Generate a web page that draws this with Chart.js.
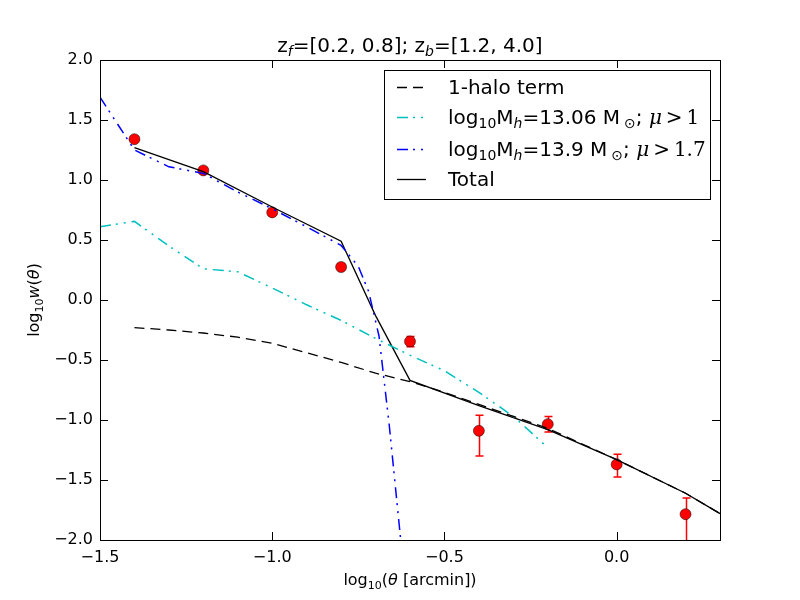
<!DOCTYPE html>
<html>
<head>
<meta charset="utf-8">
<script src="https://cdn.jsdelivr.net/npm/chart.js@4"></script>
<style>
html,body{margin:0;padding:0;background:#fff;}
canvas{display:block;}
</style>
</head>
<body>
<canvas id="chart" width="800" height="600"></canvas>
<script>
// measured points with (asymmetric) errors
const obsX=[-1.4,-1.2,-1.0,-0.8,-0.6,-0.4,-0.2,0.0,0.2];
const obsY=[1.34,1.08,0.73,0.275,-0.345,-1.09,-1.035,-1.37,-1.785];
const obsErrUp=[0.02,0.02,0.02,0.02,0.04,0.13,0.065,0.085,0.135];
const obsErrDown=[0.02,0.02,0.02,0.02,0.045,0.21,0.065,0.105,0.25];

// 1-halo term
const oneHaloX=[-1.4,-1.3,-1.2,-1.1,-1.0,-0.9,-0.8,-0.7,-0.6,-0.5,-0.4,-0.3,-0.2,-0.1,0.0,0.1,0.2,0.3];
const oneHaloY=[-0.23,-0.25,-0.275,-0.31,-0.36,-0.44,-0.52,-0.61,-0.68,-0.77,-0.87,-0.97,-1.07,-1.2,-1.33,-1.47,-1.61,-1.78];

// log10 Mh = 13.06
const cyanX=[-1.5,-1.4,-1.3,-1.2,-1.1,-1.0,-0.9,-0.8,-0.7,-0.6,-0.5,-0.4,-0.3,-0.2];
const cyanY=[0.61,0.655,0.45,0.26,0.235,0.10,-0.04,-0.17,-0.32,-0.46,-0.59,-0.77,-0.97,-1.23];

// log10 Mh = 13.9
const blueX=[-1.5,-1.4,-1.3,-1.2,-1.1,-1.0,-0.9,-0.8,-0.75,-0.72,-0.69,-0.66,-0.62];
const blueY=[1.69,1.25,1.11,1.055,0.9,0.76,0.61,0.455,0.28,0.07,-0.3,-1.05,-2.2];

// total
const totalX=[-1.4,-1.2,-1.0,-0.8,-0.7,-0.6,-0.4,-0.2,0.0,0.2,0.3];
const totalY=[1.27,1.07,0.775,0.49,-0.13,-0.67,-0.88,-1.08,-1.33,-1.61,-1.78];

const xTicks=[-1.5,-1.0,-0.5,0.0];
const yTicks=[-2.0,-1.5,-1.0,-0.5,0.0,0.5,1.0,1.5,2.0];

const SANS='"DejaVu Sans"';
const SERIF='"DejaVu Serif"';
const DASHED=[10,6];
const DASHDOT=[11,5,2,6,2,6];

function pts(xs,ys){return xs.map((x,i)=>({x:x,y:ys[i]}));}
function minus(v){return v.toFixed(1).replace('-','\u2212');}

// rich text: parts = [text, {sub, it, serif}]
function partFont(p,size)
{
const o=p[1]||{};
const s=o.sub?Math.round(size*0.7):size;
return (o.it?'italic ':'')+s+'px '+(o.serif?SERIF:SANS);
}
function richWidth(ctx,parts,size)
{
let w=0;
parts.forEach(p=>{ctx.font=partFont(p,size);w+=ctx.measureText(p[0]).width;});
return w;
}
function drawRich(ctx,parts,x,y,size)
{
ctx.textBaseline='alphabetic';
ctx.textAlign='left';
parts.forEach(p=>
{
const o=p[1]||{};
ctx.font=partFont(p,size);
ctx.fillText(p[0],x,y+(o.sub?size*0.22:0));
x+=ctx.measureText(p[0]).width;
});
}

const titleParts=[['z'],['f',{sub:1,it:1}],['=[0.2, 0.8]; z'],['b',{sub:1,it:1}],['=[1.2, 4.0]']];
const xLabelParts=[['log'],['10',{sub:1}],['('],['\u03b8',{it:1}],[' [arcmin])']];
const yLabelParts=[['log'],['10',{sub:1}],['w',{it:1}],['('],['\u03b8',{it:1}],[')']];

const legendRows=[
{dash:DASHED,color:'#000',parts:[['1-halo term']]},
{dash:DASHDOT,color:'#00BFBF',parts:[['log'],['10',{sub:1}],['M'],['h',{sub:1,it:1}],['=13.06 M\u2009'],['\u2299',{sub:1}],['; '],['\u03bc',{it:1,serif:1}],['\u2009>\u20091',{serif:1}]]},
{dash:DASHDOT,color:'#0000FF',parts:[['log'],['10',{sub:1}],['M'],['h',{sub:1,it:1}],['=13.9 M\u2009'],['\u2299',{sub:1}],['; '],['\u03bc',{it:1,serif:1}],['\u2009>\u20091.7',{serif:1}]]},
{dash:[],color:'#000',parts:[['Total']]}
];

const decorPlugin=
{
id:'decor',
beforeDatasetDraw(chart,args)
{
if(args.index!==4) return;
const ctx=chart.ctx,xs=chart.scales.x,ys=chart.scales.y,a=chart.chartArea;
ctx.save();
ctx.beginPath();ctx.rect(a.left,a.top,a.right-a.left,a.bottom-a.top);ctx.clip();
ctx.strokeStyle='#FF0000';ctx.lineWidth=1.5;
obsX.forEach((x,i)=>
{
const px=Math.round(xs.getPixelForValue(x))+0.5;
const top=ys.getPixelForValue(obsY[i]+obsErrUp[i]);
const bot=ys.getPixelForValue(obsY[i]-obsErrDown[i]);
ctx.beginPath();
ctx.moveTo(px,top);ctx.lineTo(px,bot);
ctx.moveTo(px-4,top);ctx.lineTo(px+4,top);
ctx.moveTo(px-4,bot);ctx.lineTo(px+4,bot);
ctx.stroke();
});
ctx.restore();
},
afterDraw(chart)
{
const ctx=chart.ctx,xs=chart.scales.x,ys=chart.scales.y,a=chart.chartArea;
ctx.save();
ctx.strokeStyle='#000';ctx.lineWidth=1;
// inward ticks on all sides
ctx.beginPath();
xTicks.forEach(v=>
{
const px=Math.round(xs.getPixelForValue(v))+0.5;
ctx.moveTo(px,a.bottom);ctx.lineTo(px,a.bottom-8);
ctx.moveTo(px,a.top);ctx.lineTo(px,a.top+8);
});
yTicks.forEach(v=>
{
const py=Math.round(ys.getPixelForValue(v))+0.5;
ctx.moveTo(a.left,py);ctx.lineTo(a.left+8,py);
ctx.moveTo(a.right,py);ctx.lineTo(a.right-8,py);
});
ctx.stroke();
ctx.strokeRect(a.left+0.5,a.top+0.5,a.right-a.left,a.bottom-a.top);

ctx.fillStyle='#000';
// title
const tw=richWidth(ctx,titleParts,20);
drawRich(ctx,titleParts,(a.left+a.right)/2-tw/2,52,20);
// x label
const xw=richWidth(ctx,xLabelParts,16);
drawRich(ctx,xLabelParts,(a.left+a.right)/2-xw/2,585,16);
// y label
const yw=richWidth(ctx,yLabelParts,16);
ctx.save();
ctx.translate(39,(a.top+a.bottom)/2);
ctx.rotate(-Math.PI/2);
drawRich(ctx,yLabelParts,-yw/2,0,16);
ctx.restore();

// legend
ctx.fillStyle='#fff';
ctx.fillRect(384,70,326,129);
ctx.strokeStyle='#000';ctx.lineWidth=1;
ctx.strokeRect(384.5,70.5,326,129);
const rowY=[87,117,149,179];
legendRows.forEach((r,i)=>
{
ctx.strokeStyle=r.color;
ctx.lineWidth=r.dash.length?1.5:1.3;
ctx.setLineDash(r.dash);
ctx.beginPath();ctx.moveTo(397,rowY[i]+0.5);ctx.lineTo(426,rowY[i]+0.5);ctx.stroke();
ctx.setLineDash([]);
ctx.fillStyle='#000';
drawRich(ctx,r.parts,448,rowY[i]+7,20);
});
ctx.restore();
}
};

const lineDs=(data,color,dash,w)=>({
type:'scatter',
data:data,
showLine:true,
borderColor:color,
borderWidth:w,
borderDash:dash,
pointRadius:0,
pointHoverRadius:0,
fill:false,
tension:0
});

new Chart(document.getElementById('chart'),
{
type:'scatter',
data:{
datasets:[
lineDs(pts(oneHaloX,oneHaloY),'#000000',DASHED,1.3),
lineDs(pts(cyanX,cyanY),'#00BFBF',DASHDOT,1.5),
lineDs(pts(blueX,blueY),'#0000FF',DASHDOT,1.5),
lineDs(pts(totalX,totalY),'#000000',[],1.3),
{
type:'scatter',
data:pts(obsX,obsY),
pointRadius:5.5,
pointBackgroundColor:'#FF0000',
pointBorderColor:'#000000',
pointBorderWidth:0.5,
showLine:false
}
]
},
options:{
responsive:false,
animation:false,
devicePixelRatio:1,
events:[],
layout:{padding:{top:60,right:80,bottom:0,left:0}},
plugins:{legend:{display:false},tooltip:{enabled:false},title:{display:false}},
scales:{
x:{
type:'linear',min:-1.5,max:0.3,
grid:{display:false,drawTicks:false},
border:{display:false},
afterBuildTicks:s=>{s.ticks=xTicks.map(v=>({value:v}));},
afterFit:s=>{s.height=60;},
ticks:{padding:8,color:'#000',font:{family:'DejaVu Sans',size:16},callback:v=>minus(v),maxRotation:0}
},
y:{
type:'linear',min:-2,max:2,
grid:{display:false,drawTicks:false},
border:{display:false},
afterBuildTicks:s=>{s.ticks=yTicks.map(v=>({value:v}));},
afterFit:s=>{s.width=100;},
ticks:{padding:7,color:'#000',font:{family:'DejaVu Sans',size:16},callback:v=>minus(v)}
}
}
},
plugins:[decorPlugin]
});
</script>
</body>
</html>
